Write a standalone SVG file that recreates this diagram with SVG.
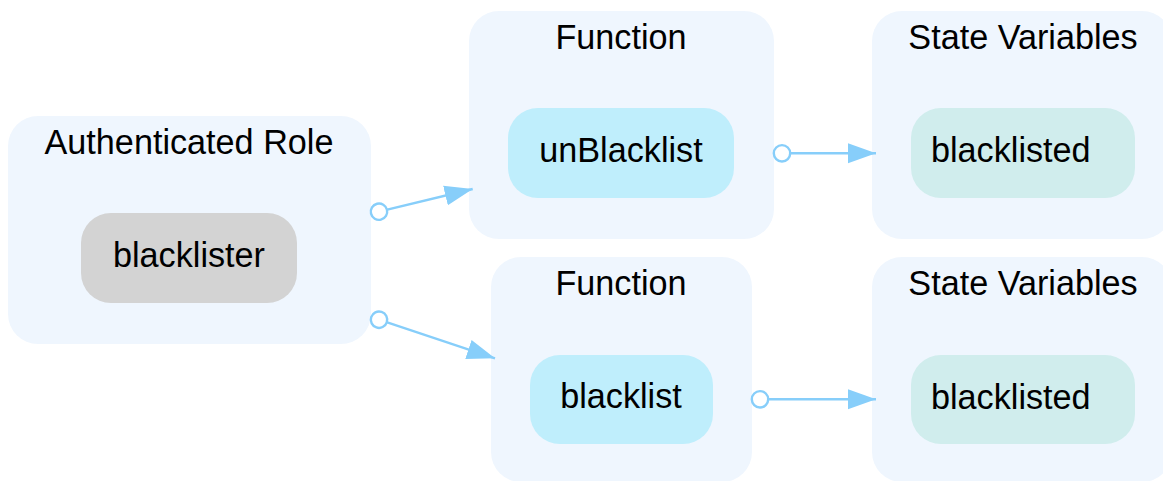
<svg xmlns="http://www.w3.org/2000/svg" width="1163" height="481" viewBox="0 0 1163 481">
  <style>
    text { font-family: "Liberation Sans", Arial, sans-serif; font-size: 34.2px; fill: #000; }
    .mid { text-anchor: middle; }
    .cluster { fill: #eff6fe; }
    .role { fill: #d3d3d3; }
    .func { fill: #bfeefc; }
    .state { fill: #d0eded; }
    .edge { fill: none; stroke: #87cefa; stroke-width: 2.4; marker-start: url(#dot); marker-end: url(#arrow); }
  </style>
  <defs>
    <marker id="arrow" markerUnits="userSpaceOnUse" markerWidth="30" markerHeight="22" refX="28" refY="11" orient="auto">
      <path d="M0,1 L28,11 L0,21 z" fill="#87cefa"/>
    </marker>
    <marker id="dot" markerUnits="userSpaceOnUse" markerWidth="22" markerHeight="22" refX="11" refY="11" orient="auto">
      <circle cx="11" cy="11" r="8.2" fill="#fff" stroke="#87cefa" stroke-width="2.4"/>
    </marker>
  </defs>

  <rect width="1163" height="481" fill="#fff"/>

  <g id="cluster_role">
    <rect class="cluster" x="8" y="116" width="363" height="228" rx="30"/>
    <text class="mid" x="189" y="154">Authenticated Role</text>
  </g>
  <g id="node_blacklister">
    <rect class="role" x="81" y="213" width="216" height="90" rx="30"/>
    <text class="mid" x="189" y="267">blacklister</text>
  </g>

  <g id="cluster_fn_unblacklist">
    <rect class="cluster" x="469" y="11" width="305" height="228" rx="30"/>
    <text class="mid" x="621" y="49">Function</text>
  </g>
  <g id="node_unBlacklist">
    <rect class="func" x="508" y="108" width="226" height="90" rx="30"/>
    <text class="mid" x="621" y="162">unBlacklist</text>
  </g>

  <g id="cluster_fn_blacklist">
    <rect class="cluster" x="491" y="257" width="261" height="225" rx="30"/>
    <text class="mid" x="621" y="295">Function</text>
  </g>
  <g id="node_blacklist">
    <rect class="func" x="530" y="355" width="183" height="89" rx="30"/>
    <text class="mid" x="621" y="408">blacklist</text>
  </g>

  <g id="cluster_state_top">
    <rect class="cluster" x="872" y="11" width="300" height="228" rx="30"/>
    <text class="mid" x="1023" y="49">State Variables</text>
  </g>
  <g id="node_blacklisted_top">
    <rect class="state" x="911" y="108" width="224" height="90" rx="30"/>
    <text x="931" y="162">blacklisted</text>
  </g>

  <g id="cluster_state_bottom">
    <rect class="cluster" x="872" y="257" width="300" height="225" rx="30"/>
    <text class="mid" x="1023" y="295">State Variables</text>
  </g>
  <g id="node_blacklisted_bottom">
    <rect class="state" x="911" y="355" width="224" height="89" rx="30"/>
    <text x="931" y="409">blacklisted</text>
  </g>

  <g id="edges">
    <path class="edge" d="M379,211.7 L472.7,189"/>
    <path class="edge" d="M379,319.7 L495,358.3"/>
    <path class="edge" d="M782,153.3 L876,153.3"/>
    <path class="edge" d="M760,399.3 L876,399.3"/>
  </g>
</svg>
